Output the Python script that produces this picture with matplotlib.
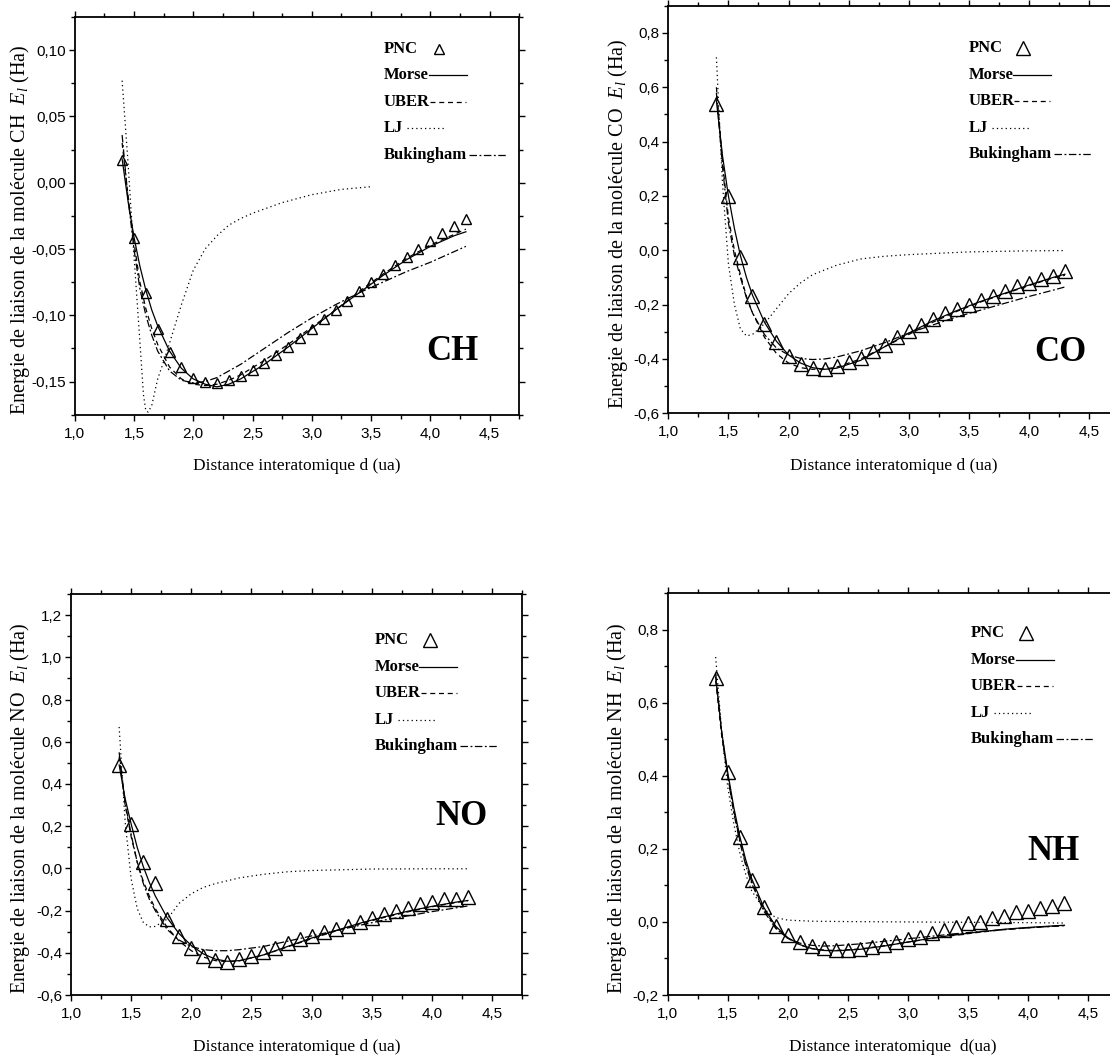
import matplotlib
matplotlib.use('Agg')
import matplotlib.pyplot as plt
from matplotlib.ticker import MultipleLocator, FuncFormatter

plt.rcParams['font.family'] = ['Liberation Sans', 'DejaVu Sans']
plt.rcParams['mathtext.fontset'] = 'custom'
plt.rcParams['mathtext.rm'] = 'Liberation Serif'
plt.rcParams['mathtext.it'] = 'Liberation Serif:italic'

# distances (ua) of the PNC points
d_pnc = [1.4, 1.5, 1.6, 1.7, 1.8, 1.9, 2.0, 2.1, 2.2, 2.3, 2.4, 2.5, 2.6, 2.7, 2.8,
         2.9, 3.0, 3.1, 3.2, 3.3, 3.4, 3.5, 3.6, 3.7, 3.8, 3.9, 4.0, 4.1, 4.2, 4.3]
# distances where Morse / UBER / Bukingham are sampled
d_fit = [1.4, 1.45, 1.5, 1.55, 1.6, 1.65, 1.7, 1.8, 1.9, 2.0, 2.1, 2.2, 2.3, 2.4,
         2.6, 2.8, 3.0, 3.2, 3.4, 3.6, 3.8, 4.0, 4.2, 4.3]

# --- CH ---
ch_pnc = [0.017, -0.042, -0.083, -0.110, -0.128, -0.139, -0.147, -0.150, -0.151, -0.149,
          -0.146, -0.141, -0.136, -0.130, -0.124, -0.117, -0.110, -0.103, -0.096, -0.089,
          -0.082, -0.075, -0.069, -0.062, -0.056, -0.050, -0.044, -0.038, -0.033, -0.027]
ch_morse = [0.018, -0.014, -0.041, -0.063, -0.081, -0.096, -0.108, -0.127, -0.140, -0.148,
            -0.152, -0.154, -0.152, -0.148, -0.137, -0.124, -0.110, -0.096, -0.083, -0.070,
            -0.058, -0.048, -0.040, -0.037]
ch_uber = [0.030, -0.010, -0.045, -0.075, -0.095, -0.110, -0.122, -0.139, -0.148, -0.152,
           -0.153, -0.152, -0.149, -0.145, -0.134, -0.122, -0.109, -0.096, -0.082, -0.069,
           -0.057, -0.047, -0.039, -0.035]
ch_buck = [0.036, -0.012, -0.050, -0.080, -0.100, -0.115, -0.127, -0.142, -0.149, -0.151,
           -0.150, -0.147, -0.142, -0.137, -0.125, -0.113, -0.102, -0.092, -0.083, -0.075,
           -0.067, -0.060, -0.052, -0.048]
ch_lj_d = [1.4, 1.45, 1.5, 1.55, 1.58, 1.6, 1.62, 1.65, 1.7, 1.75, 1.8, 1.9, 2.0, 2.1,
           2.2, 2.3, 2.4, 2.5, 2.75, 3.0, 3.25, 3.5]
ch_lj = [0.077, 0.015, -0.055, -0.120, -0.160, -0.172, -0.173, -0.168, -0.148, -0.135,
         -0.121, -0.092, -0.066, -0.050, -0.040, -0.032, -0.027, -0.023, -0.015, -0.009,
         -0.005, -0.003]

# --- CO ---
co_pnc = [0.540, 0.199, -0.025, -0.169, -0.270, -0.339, -0.388, -0.418, -0.433, -0.437,
          -0.427, -0.412, -0.396, -0.372, -0.347, -0.319, -0.298, -0.274, -0.253, -0.231,
          -0.216, -0.200, -0.182, -0.167, -0.151, -0.133, -0.120, -0.106, -0.093, -0.077]
co_morse = [0.55, 0.35, 0.20, 0.08, -0.02, -0.10, -0.165, -0.265, -0.335, -0.385, -0.415,
            -0.432, -0.438, -0.434, -0.405, -0.355, -0.305, -0.26, -0.222, -0.188, -0.158,
            -0.128, -0.100, -0.088]
co_uber = [0.60, 0.33, 0.12, 0.00, -0.09, -0.17, -0.23, -0.32, -0.38, -0.415, -0.432,
           -0.438, -0.437, -0.43, -0.40, -0.355, -0.31, -0.265, -0.225, -0.19, -0.16,
           -0.13, -0.102, -0.092]
co_buck = [0.58, 0.31, 0.10, -0.02, -0.10, -0.175, -0.23, -0.31, -0.36, -0.385, -0.398,
           -0.402, -0.40, -0.393, -0.37, -0.34, -0.305, -0.275, -0.245, -0.22, -0.195,
           -0.17, -0.147, -0.135]
co_lj_d = [1.4, 1.45, 1.5, 1.55, 1.6, 1.65, 1.7, 1.8, 1.9, 2.0, 2.1, 2.2, 2.4, 2.6, 2.8,
           3.0, 3.5, 4.0, 4.3]
co_lj = [0.71, 0.25, -0.05, -0.20, -0.29, -0.315, -0.31, -0.27, -0.215, -0.16, -0.12,
         -0.09, -0.055, -0.032, -0.022, -0.016, -0.006, -0.002, -0.001]

# --- NO ---
no_pnc = [0.488, 0.208, 0.030, -0.071, -0.241, -0.320, -0.375, -0.414, -0.435, -0.442,
          -0.430, -0.414, -0.395, -0.375, -0.354, -0.335, -0.320, -0.301, -0.285, -0.272,
          -0.254, -0.233, -0.217, -0.202, -0.186, -0.170, -0.159, -0.146, -0.143, -0.134]
no_morse = [0.49, 0.33, 0.21, 0.10, 0.01, -0.065, -0.13, -0.235, -0.31, -0.365, -0.405,
            -0.43, -0.44, -0.437, -0.41, -0.37, -0.33, -0.295, -0.26, -0.23, -0.203,
            -0.18, -0.16, -0.152]
no_uber = [0.53, 0.30, 0.15, 0.03, -0.06, -0.13, -0.19, -0.28, -0.345, -0.39, -0.42,
           -0.437, -0.442, -0.438, -0.41, -0.372, -0.333, -0.297, -0.263, -0.233, -0.206,
           -0.182, -0.162, -0.153]
no_buck = [0.55, 0.31, 0.16, 0.03, -0.07, -0.145, -0.20, -0.29, -0.34, -0.37, -0.385,
           -0.39, -0.39, -0.385, -0.37, -0.345, -0.32, -0.295, -0.27, -0.245, -0.225,
           -0.205, -0.187, -0.178]
no_lj_d = [1.4, 1.45, 1.5, 1.55, 1.6, 1.65, 1.7, 1.8, 1.9, 2.0, 2.1, 2.2, 2.4, 2.6, 2.8,
           3.0, 3.5, 4.0, 4.3]
no_lj = [0.67, 0.22, -0.05, -0.19, -0.255, -0.277, -0.275, -0.24, -0.165, -0.12, -0.09,
         -0.072, -0.045, -0.028, -0.016, -0.010, -0.003, -0.002, -0.002]

# --- NH ---
nh_pnc = [0.668, 0.409, 0.232, 0.115, 0.040, -0.011, -0.036, -0.054, -0.066, -0.072,
          -0.077, -0.077, -0.075, -0.069, -0.063, -0.054, -0.047, -0.040, -0.029, -0.022,
          -0.013, -0.004, 0.001, 0.010, 0.016, 0.026, 0.031, 0.037, 0.044, 0.051]
nh_morse = [0.67, 0.52, 0.41, 0.315, 0.235, 0.17, 0.118, 0.04, -0.012, -0.043, -0.062,
            -0.073, -0.078, -0.079, -0.075, -0.066, -0.055, -0.044, -0.035, -0.027,
            -0.020, -0.015, -0.011, -0.009]
nh_uber = [0.66, 0.51, 0.40, 0.305, 0.225, 0.16, 0.11, 0.035, -0.015, -0.045, -0.063,
           -0.073, -0.077, -0.078, -0.074, -0.065, -0.055, -0.045, -0.036, -0.028,
           -0.021, -0.016, -0.012, -0.010]
nh_buck = [0.68, 0.52, 0.40, 0.30, 0.22, 0.155, 0.105, 0.03, -0.018, -0.045, -0.058,
           -0.064, -0.066, -0.065, -0.060, -0.053, -0.046, -0.039, -0.032, -0.026,
           -0.021, -0.016, -0.012, -0.010]
nh_lj_d = [1.4, 1.45, 1.5, 1.55, 1.6, 1.65, 1.7, 1.8, 1.9, 2.0, 2.2, 2.5, 3.0, 3.5, 4.0, 4.3]
nh_lj = [0.725, 0.52, 0.37, 0.27, 0.19, 0.13, 0.085, 0.035, 0.012, 0.005, 0.002, 0.001,
         0.0, -0.001, -0.002, -0.003]

xlabel = 'Distance interatomique d (ua)'
ylabel = 'Energie de liaison de la molécule %s  $E_l$ (Ha)'

dashed = (0, (4, 3))
dotted = (0, (1, 2.5))
dashdot = (0, (6, 2, 1.5, 2))

panels = [
    dict(mol='CH', rect=[0.0673, 0.6084, 0.4005, 0.3755], ylim=(-0.175, 0.125),
         major=0.05, minor=0.025, dec=2, ms=6.5, ylab_x=-0.124,
         pnc=ch_pnc, morse=ch_morse, uber=ch_uber, buck=ch_buck, lj_d=ch_lj_d, lj=ch_lj,
         xlab=xlabel, key=(0.695, 0.920), tag=(0.85, 0.158)),
    dict(mol='CO', rect=[0.6021, 0.6097, 0.4060, 0.3849], ylim=(-0.6, 0.9),
         major=0.2, minor=0.1, dec=1, ms=9.5, ylab_x=-0.112,
         pnc=co_pnc, morse=co_morse, uber=co_uber, buck=co_buck, lj_d=co_lj_d, lj=co_lj,
         xlab=xlabel, key=(0.666, 0.896), tag=(0.869, 0.15)),
    dict(mol='NO', rect=[0.0640, 0.0604, 0.4063, 0.3787], ylim=(-0.6, 1.3),
         major=0.2, minor=0.1, dec=1, ms=9.5, ylab_x=-0.113,
         pnc=no_pnc, morse=no_morse, uber=no_uber, buck=no_buck, lj_d=no_lj_d, lj=no_lj,
         xlab=xlabel, key=(0.673, 0.885), tag=(0.865, 0.444)),
    dict(mol='NH', rect=[0.6014, 0.0604, 0.4063, 0.3796], ylim=(-0.2, 0.9),
         major=0.2, minor=0.1, dec=1, ms=9.5, ylab_x=-0.112,
         pnc=nh_pnc, morse=nh_morse, uber=nh_uber, buck=nh_buck, lj_d=nh_lj_d, lj=nh_lj,
         xlab='Distance interatomique  d(ua)', key=(0.673, 0.900), tag=(0.855, 0.358)),
]


def comma_fmt(dec):
    def f(v, pos):
        if abs(v) < 1e-9:
            v = 0.0
        return ('%.*f' % (dec, v)).replace('.', ',')
    return FuncFormatter(f)


fig = plt.figure(figsize=(11.1, 10.59), dpi=100)
keys = []
for p in panels:
    ax = fig.add_axes(p['rect'])
    ax.plot(d_fit, p['morse'], color='black', lw=0.9, ls='-')
    ax.plot(d_fit, p['uber'], color='black', lw=0.9, ls=dashed)
    ax.plot(p['lj_d'], p['lj'], color='black', lw=0.9, ls=dotted)
    ax.plot(d_fit, p['buck'], color='black', lw=0.9, ls=dashdot)
    ax.plot(d_pnc, p['pnc'], ls='none', marker='^', ms=p['ms'], mfc='none',
            mec='black', mew=1.0)

    ax.set_xlim(1.0, 4.75)
    ax.set_ylim(*p['ylim'])
    ax.xaxis.set_major_locator(MultipleLocator(0.5))
    ax.xaxis.set_minor_locator(MultipleLocator(0.25))
    ax.yaxis.set_major_locator(MultipleLocator(p['major']))
    ax.yaxis.set_minor_locator(MultipleLocator(p['minor']))
    ax.xaxis.set_major_formatter(comma_fmt(1))
    ax.yaxis.set_major_formatter(comma_fmt(p['dec']))
    ax.tick_params(which='both', direction='out', labelsize=11, width=1.0)
    ax.tick_params(axis='x', pad=4)
    ax.tick_params(axis='y', pad=2)
    ax.tick_params(which='major', length=4.5)
    ax.tick_params(which='minor', length=3)
    ax.tick_params(which='both', top=True, right=True, labeltop=False, labelright=False)
    for s in ax.spines.values():
        s.set_linewidth(1.3)

    ax.set_xlabel(p['xlab'], fontfamily='Liberation Serif', fontsize=12.5)
    ax.set_ylabel(ylabel % p['mol'], fontfamily='Liberation Serif', fontsize=14.5)
    ax.xaxis.set_label_coords(0.5, -0.13)
    ax.yaxis.set_label_coords(p['ylab_x'], 0.465)
    ax.xaxis.label.set_va('center')
    ax.yaxis.label.set_va('center')

    ax.text(p['tag'][0], p['tag'][1], p['mol'], transform=ax.transAxes, ha='center',
            va='center', fontfamily='Liberation Serif', fontweight='bold', fontsize=25)

    # hand-made key: label first, sample drawn just after it
    step = 26.5 / ax.bbox.height
    rows = []
    for i, name in enumerate(['PNC', 'Morse', 'UBER', 'LJ', 'Bukingham']):
        t = ax.text(p['key'][0], p['key'][1] - i * step, name, transform=ax.transAxes,
                    ha='left', va='center', fontfamily='Liberation Serif',
                    fontweight='bold', fontsize=12)
        rows.append(t)
    keys.append((ax, rows, p['ms']))

fig.canvas.draw()
renderer = fig.canvas.get_renderer()
samples = [None, ('-', 0, 38), (dashed, 0, 36), (dotted, 4, 38), (dashdot, 2, 37)]
for ax, rows, ms in keys:
    inv = ax.transAxes.inverted()
    for t, smp in zip(rows, samples):
        bb = t.get_window_extent(renderer)
        yc = t.get_position()[1]
        if smp is None:
            xm = inv.transform((bb.x1 + 21, 0))[0]
            ax.plot([xm], [yc], transform=ax.transAxes, ls='none', marker='^', ms=ms,
                    mfc='none', mec='black', mew=1.0, clip_on=False)
        else:
            style, gap, length = smp
            xa = inv.transform((bb.x1 + gap, 0))[0]
            xb = inv.transform((bb.x1 + gap + length, 0))[0]
            ax.plot([xa, xb], [yc, yc], transform=ax.transAxes, color='black', lw=0.9,
                    ls=style, clip_on=False)

fig.savefig('out.png', dpi=100)
